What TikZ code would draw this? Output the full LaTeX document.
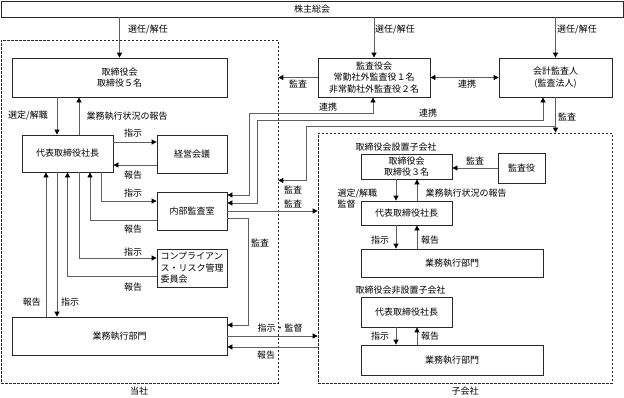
\documentclass[tikz,border=0pt]{standalone}
\usepackage{fontspec}
\setmainfont{Noto Sans CJK JP}
\usepackage{tikz}
\usetikzlibrary{arrows.meta,positioning}
\definecolor{linegray}{RGB}{95,95,95}
\definecolor{boxline}{RGB}{40,40,40}

\begin{document}
\begin{tikzpicture}[x=1pt,y=-1pt,
  every node/.style={font=\fontsize{9}{11.5}\selectfont},
  box/.style={rectangle,draw=boxline,line width=0.8pt,fill=white,align=center,inner sep=1pt},
  area/.style={rectangle,draw=boxline,line width=0.7pt,dash pattern=on 2.5pt off 1.5pt},
  lbl/.style={inner sep=0.5pt},
  arr/.style={draw=linegray,line width=0.8pt,-{Triangle[color=black,length=5pt,width=5pt]}},
  biarr/.style={draw=linegray,line width=0.8pt,{Triangle[color=black,length=5pt,width=5pt]}-{Triangle[color=black,length=5pt,width=5pt]}}]
  \useasboundingbox (0,0) rectangle (624,397);

  % Areas
  \node[area,minimum width=277pt,minimum height=343pt] (tosha) at (139.5,211.5) {};
  \node[area,minimum width=294pt,minimum height=250pt] (kogaisha) at (465,258) {};
  \node[lbl] (ltosha) at (139,391) {当社};
  \node[lbl] (lkogaisha) at (465,391) {子会社};

  % Top
  \node[box,minimum width=622pt,minimum height=16pt] (kabunushi) at (312,9) {株主総会};
  \node[box,minimum width=215pt,minimum height=39pt] (torishimari) at (119.5,77.5) {取締役会\\取締役５名};
  \node[box,minimum width=112pt,minimum height=39pt] (kansayaku) at (374,77.5) {監査役会\\常勤社外監査役１名\\非常勤社外監査役２名};
  \node[box,minimum width=113pt,minimum height=39pt] (kaikei) at (555.5,77.5) {会計監査人\\(監査法人)};

  % Tosha
  \node[box,minimum width=91pt,minimum height=37pt] (daihyo) at (67.5,153.5) {代表取締役社長};
  \node[box,minimum width=70pt,minimum height=38pt] (keiei) at (192,154) {経営会議};
  \node[box,minimum width=70pt,minimum height=38pt] (naibu) at (192,211) {内部監査室};
  \node[box,minimum width=70pt,minimum height=38pt,align=left] (compliance) at (192,268) {コンプライアン\\ス・リスク管理\\委員会};
  \node[box,minimum width=215pt,minimum height=38pt] (gyomu) at (119.5,336) {業務執行部門};

  % Kogaisha
  \node[lbl,anchor=west] (lsetchi) at (355,147) {取締役会設置子会社};
  \node[box,minimum width=91pt,minimum height=25pt,font=\fontsize{9}{10.5}\selectfont] (subboard) at (406.5,166.5) {取締役会\\取締役３名};
  \node[box,minimum width=47pt,minimum height=30pt] (subkansa) at (521.5,168) {監査役};
  \node[box,minimum width=91pt,minimum height=24pt] (subdaihyo) at (406.5,213) {代表取締役社長};
  \node[box,minimum width=182pt,minimum height=28pt] (subgyomu) at (452,263) {業務執行部門};
  \node[lbl,anchor=west] (lhisetchi) at (355,290) {取締役会非設置子会社};
  \node[box,minimum width=91pt,minimum height=30pt] (subtdaihyo) at (406.5,312) {代表取締役社長};
  \node[box,minimum width=182pt,minimum height=30pt] (subtgyomu) at (452,360) {業務執行部門};

  % Senin
  \draw[arr] (kabunushi.south -| torishimari.north) -- (torishimari.north);
  \draw[arr] (kabunushi.south -| kansayaku.north) -- (kansayaku.north);
  \draw[arr] (kabunushi.south -| kaikei.north) -- (kaikei.north);
  \node[lbl] (lsenin1) at (148,30) {選任/解任};
  \node[lbl] (lsenin2) at (395,30) {選任/解任};
  \node[lbl] (lsenin3) at (577,30) {選任/解任};

  % Torishimari - daihyo
  \draw[arr] ([xshift=-10.5pt]daihyo.north |- torishimari.south) -- ([xshift=-10.5pt]daihyo.north);
  \draw[arr] ([xshift=11.5pt]daihyo.north) -- ([xshift=11.5pt]daihyo.north |- torishimari.south);
  \node[lbl] (lsentei) at (28,116) {選定/解職};
  \node[lbl] (ljokyo) at (127,116) {業務執行状況の報告};

  % Daihyo - keiei, naibu, compliance
  \draw[arr] ([yshift=11.5pt]daihyo.east) -- ([yshift=11.5pt]daihyo.east -| keiei.west);
  \draw[arr] ([yshift=-11.5pt]daihyo.east -| keiei.west) -- ([yshift=-11.5pt]daihyo.east);
  \draw[arr] ([xshift=33.5pt]daihyo.south) |- ([yshift=10pt]naibu.west);
  \draw[arr] ([yshift=-9pt]naibu.west) -| ([xshift=22.5pt]daihyo.south);
  \draw[arr] ([xshift=11.5pt]daihyo.south) |- ([yshift=10pt]compliance.west);
  \draw[arr] ([yshift=-8pt]compliance.west) -| (daihyo.south);
  \node[lbl] (lshiji1) at (133,133) {指示};
  \node[lbl] (lhokoku1) at (133,175) {報告};
  \node[lbl] (lshiji2) at (133,193) {指示};
  \node[lbl] (lhokoku2) at (133,229) {報告};
  \node[lbl] (lshiji3) at (133,252) {指示};
  \node[lbl] (lhokoku3) at (133,287) {報告};

  % Daihyo - gyomu
  \draw[arr] ([xshift=-21.5pt]daihyo.south |- gyomu.north) -- ([xshift=-21.5pt]daihyo.south);
  \draw[arr] ([xshift=-10.5pt]daihyo.south) -- ([xshift=-10.5pt]daihyo.south |- gyomu.north);
  \node[lbl] (lhokoku4) at (32,302) {報告};
  \node[lbl] (lshiji4) at (70,302) {指示};

  % Kansa
  \draw[arr] (kansayaku.west) -- (kansayaku.west -| tosha.east);
  \draw[biarr] (kansayaku.east) -- (kaikei.west);
  \draw[biarr] ([yshift=16pt]naibu.east) -- ++(22,0) -- ++(0,-82) -| ([xshift=-1pt]kansayaku.south);
  \draw[biarr] ([yshift=8pt]naibu.east) -- ++(30,0) -- ++(0,-83) -| ([xshift=-12.5pt]kaikei.south);
  \node[lbl] (lkansa1) at (298,84) {監査};
  \node[lbl] (lrenkei1) at (467,84) {連携};
  \node[lbl] (lrenkei2) at (328,107) {連携};
  \node[lbl] (lrenkei3) at (428,113) {連携};

  % Kaikei
  \coordinate (kturn) at ([xshift=-249.5pt,yshift=-83pt]kaikei.south);
  \draw[arr] (kaikei.south) -- (kaikei.south |- kogaisha.north);
  \draw[arr] ([yshift=-29pt]kaikei.south) -| (kturn) -- (kturn -| tosha.east);
  \node[lbl] (lkansa2) at (567,117) {監査};
  \node[lbl] (lkansa3) at (293,190) {監査};

  % Naibu kansa
  \draw[arr] (naibu.east) -- (naibu.east -| kogaisha.west);
  \draw[arr] ([yshift=-7pt]naibu.east) -- ++(21,0) |- ([yshift=11pt]gyomu.east);
  \node[lbl] (lkansa4) at (293,204) {監査};
  \node[lbl] (lkansa5) at (260,243) {監査};

  % Gyomu - kogaisha
  \draw[arr] (gyomu.east) -- (gyomu.east -| kogaisha.west);
  \draw[arr] ([yshift=-11pt]gyomu.east -| kogaisha.west) -- ([yshift=-11pt]gyomu.east);
  \node[lbl] (lkantoku) at (280,328) {指示・監督};
  \node[lbl] (lhokoku5) at (266,355) {報告};

  % Setchi kogaisha
  \draw[arr] (subkansa.west) -- (subkansa.west -| subboard.east);
  \draw[arr] ([xshift=-10.5pt]subboard.south) -- ([xshift=-10.5pt]subdaihyo.north);
  \draw[arr] ([xshift=10.5pt]subdaihyo.north) -- ([xshift=10.5pt]subboard.south);
  \draw[arr] ([xshift=-10.5pt]subdaihyo.south) -- ([xshift=-10.5pt]subdaihyo.south |- subgyomu.north);
  \draw[arr] ([xshift=10.5pt]subdaihyo.south |- subgyomu.north) -- ([xshift=10.5pt]subdaihyo.south);
  \node[lbl] (lkansa6) at (475,161) {監査};
  \node[lbl,align=left,anchor=west] (lsubsentei) at (337,198.5) {選定/解職\\監督};
  \node[lbl] (lsubjokyo) at (466,193) {業務執行状況の報告};
  \node[lbl] (lsubshiji) at (380,240) {指示};
  \node[lbl] (lsubhokoku) at (430,240) {報告};

  % Hisetchi kogaisha
  \draw[arr] ([xshift=-10.5pt]subtdaihyo.south) -- ([xshift=-10.5pt]subtdaihyo.south |- subtgyomu.north);
  \draw[arr] ([xshift=10.5pt]subtdaihyo.south |- subtgyomu.north) -- ([xshift=10.5pt]subtdaihyo.south);
  \node[lbl] (lsubtshiji) at (380,336) {指示};
  \node[lbl] (lsubthokoku) at (430,336) {報告};
\end{tikzpicture}
\end{document}
